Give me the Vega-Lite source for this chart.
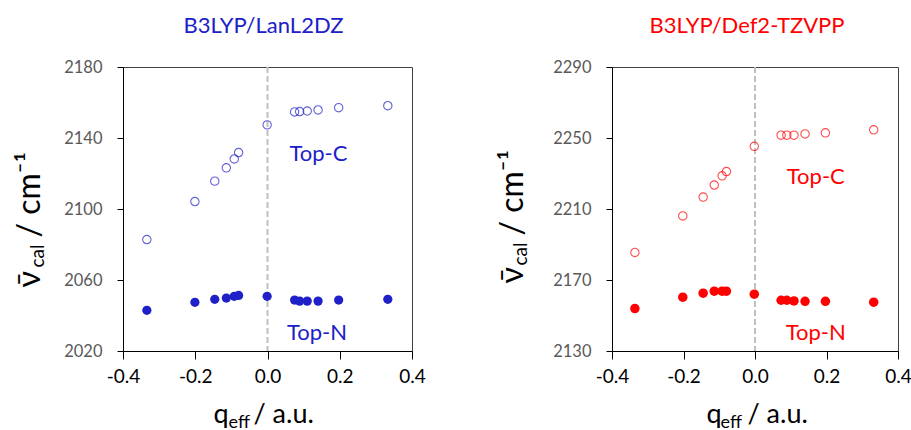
{
  "$schema": "https://vega.github.io/schema/vega-lite/v6.json",
  "padding": {"left": 12, "top": 14, "right": 0, "bottom": 0},
  "spacing": 69,
  "config": {
    "font": "Lato",
    "view": {"stroke": "#404040", "strokeWidth": 1},
    "axis": {"grid": false}
  },
  "datasets": {
    "lanl": [
      {"q": -0.334, "v": 2082.8, "site": "Top-C"},
      {"q": -0.201, "v": 2104.2, "site": "Top-C"},
      {"q": -0.146, "v": 2115.7, "site": "Top-C"},
      {"q": -0.114, "v": 2123.2, "site": "Top-C"},
      {"q": -0.092, "v": 2128.2, "site": "Top-C"},
      {"q": -0.080, "v": 2131.8, "site": "Top-C"},
      {"q": -0.001, "v": 2147.4, "site": "Top-C"},
      {"q": 0.075, "v": 2154.7, "site": "Top-C"},
      {"q": 0.089, "v": 2154.9, "site": "Top-C"},
      {"q": 0.110, "v": 2155.2, "site": "Top-C"},
      {"q": 0.140, "v": 2155.8, "site": "Top-C"},
      {"q": 0.197, "v": 2157.1, "site": "Top-C"},
      {"q": 0.333, "v": 2158.2, "site": "Top-C"},
      {"q": -0.334, "v": 2042.9, "site": "Top-N"},
      {"q": -0.201, "v": 2047.4, "site": "Top-N"},
      {"q": -0.146, "v": 2049.1, "site": "Top-N"},
      {"q": -0.114, "v": 2049.8, "site": "Top-N"},
      {"q": -0.092, "v": 2050.8, "site": "Top-N"},
      {"q": -0.080, "v": 2051.3, "site": "Top-N"},
      {"q": -0.001, "v": 2050.8, "site": "Top-N"},
      {"q": 0.075, "v": 2048.7, "site": "Top-N"},
      {"q": 0.089, "v": 2048.1, "site": "Top-N"},
      {"q": 0.110, "v": 2048.1, "site": "Top-N"},
      {"q": 0.140, "v": 2048.1, "site": "Top-N"},
      {"q": 0.197, "v": 2048.7, "site": "Top-N"},
      {"q": 0.333, "v": 2049.1, "site": "Top-N"}
    ],
    "lanl_labels": [
      {"q": 0.141, "v": 2131, "label": "Top-C"},
      {"q": 0.137, "v": 2030, "label": "Top-N"}
    ],
    "def2": [
      {"q": -0.336, "v": 2185.5, "site": "Top-C"},
      {"q": -0.202, "v": 2206.1, "site": "Top-C"},
      {"q": -0.145, "v": 2216.7, "site": "Top-C"},
      {"q": -0.114, "v": 2223.5, "site": "Top-C"},
      {"q": -0.092, "v": 2228.7, "site": "Top-C"},
      {"q": -0.080, "v": 2231.1, "site": "Top-C"},
      {"q": -0.002, "v": 2245.3, "site": "Top-C"},
      {"q": 0.073, "v": 2251.6, "site": "Top-C"},
      {"q": 0.089, "v": 2251.6, "site": "Top-C"},
      {"q": 0.109, "v": 2251.6, "site": "Top-C"},
      {"q": 0.140, "v": 2252.3, "site": "Top-C"},
      {"q": 0.197, "v": 2252.9, "site": "Top-C"},
      {"q": 0.332, "v": 2254.6, "site": "Top-C"},
      {"q": -0.336, "v": 2153.9, "site": "Top-N"},
      {"q": -0.202, "v": 2160.3, "site": "Top-N"},
      {"q": -0.145, "v": 2162.6, "site": "Top-N"},
      {"q": -0.114, "v": 2163.7, "site": "Top-N"},
      {"q": -0.092, "v": 2163.7, "site": "Top-N"},
      {"q": -0.080, "v": 2163.7, "site": "Top-N"},
      {"q": -0.002, "v": 2162.0, "site": "Top-N"},
      {"q": 0.073, "v": 2158.6, "site": "Top-N"},
      {"q": 0.089, "v": 2158.6, "site": "Top-N"},
      {"q": 0.109, "v": 2158.2, "site": "Top-N"},
      {"q": 0.140, "v": 2158.0, "site": "Top-N"},
      {"q": 0.197, "v": 2158.0, "site": "Top-N"},
      {"q": 0.332, "v": 2157.5, "site": "Top-N"}
    ],
    "def2_labels": [
      {"q": 0.170, "v": 2228, "label": "Top-C"},
      {"q": 0.170, "v": 2140, "label": "Top-N"}
    ]
  },
  "hconcat": [
    {
      "width": 289,
      "height": 284,
      "title": {"text": "B3LYP/LanL2DZ", "color": "#2020C8", "fontSize": 22, "fontWeight": "normal", "font": "Lato", "offset": 21, "dx": -4},
      "resolve": {"axis": {"x": "independent", "y": "independent"}},
      "layer": [
        {
          "data": {"values": [{"q": 0}]},
          "mark": {"type": "rule", "color": "#BFBFBF", "strokeWidth": 2, "strokeDash": [6, 3]},
          "encoding": {
            "x": {"field": "q", "type": "quantitative", "scale": {"domain": [-0.4, 0.4], "nice": false, "zero": false}, "axis": null}
          }
        },
        {
          "data": {"name": "lanl"},
          "transform": [{"filter": "datum.site === 'Top-C'"}],
          "mark": {"type": "point", "shape": "circle", "filled": false, "color": "#2020C8", "size": 70, "strokeWidth": 1.1},
          "encoding": {
            "x": {"field": "q", "type": "quantitative", "scale": {"domain": [-0.4, 0.4], "nice": false, "zero": false},
              "axis": {"orient": "bottom", "values": [-0.4, -0.2, 0, 0.2, 0.4], "format": ".1f", "labelExpr": "replace(datum.label, '\u2212', '-')",
                "tickSize": 8, "tickColor": "black", "domainColor": "black", "labelColor": "black", "labelFontSize": 19, "labelPadding": 8, "labelFlush": false,
                "title": "q", "titleFontSize": 27, "titleFontWeight": "normal", "titleColor": "black",
                "titleX": 90, "titleY": 71, "titleAlign": "left", "titleBaseline": "alphabetic"}},
            "y": {"field": "v", "type": "quantitative", "scale": {"domain": [2020, 2180], "nice": false, "zero": false},
              "axis": {"orient": "left", "values": [2020, 2060, 2100, 2140, 2180], "format": "d", "tickSize": 6, "tickColor": "black", "domainColor": "black",
                "labelColor": "#595959", "labelFontSize": 16.5, "labelPadding": 15, "labelFlush": false,
                "title": "\u03bd\u0304", "titleFontSize": 32, "titleFontWeight": "normal", "titleColor": "black",
                "titleAngle": -90, "titleX": -84, "titleY": 220, "titleAlign": "left", "titleBaseline": "alphabetic"}}
          }
        },
        {
          "data": {"name": "lanl"},
          "transform": [{"filter": "datum.site === 'Top-N'"}],
          "mark": {"type": "circle", "color": "#2020C8", "size": 85, "opacity": 1},
          "encoding": {
            "x": {"field": "q", "type": "quantitative", "scale": {"domain": [-0.4, 0.4], "nice": false, "zero": false}, "axis": null},
            "y": {"field": "v", "type": "quantitative", "scale": {"domain": [2020, 2180], "nice": false, "zero": false}, "axis": null}
          }
        },
        {
          "data": {"name": "lanl_labels"},
          "mark": {"type": "text", "color": "#2020C8", "fontSize": 22, "font": "Lato", "align": "center", "baseline": "middle"},
          "encoding": {
            "x": {"field": "q", "type": "quantitative", "scale": {"domain": [-0.4, 0.4], "nice": false, "zero": false}, "axis": null},
            "y": {"field": "v", "type": "quantitative", "scale": {"domain": [2020, 2180], "nice": false, "zero": false}, "axis": null},
            "text": {"field": "label"}
          }
        },
        {
          "data": {"name": "lanl_labels"},
          "mark": {"type": "point", "opacity": 0},
          "encoding": {
            "x": {"field": "q", "type": "quantitative", "scale": {"domain": [-0.4, 0.4], "nice": false, "zero": false},
              "axis": {"orient": "bottom", "domain": false, "ticks": false, "labels": false, "title": "eff", "titleFontSize": 18, "titleFontWeight": "normal",
                "titleColor": "black", "titleX": 105, "titleY": 76, "titleAlign": "left", "titleBaseline": "alphabetic"}},
            "y": {"field": "v", "type": "quantitative", "scale": {"domain": [2020, 2180], "nice": false, "zero": false},
              "axis": {"orient": "left", "domain": false, "ticks": false, "labels": false, "title": "cal", "titleFontSize": 19, "titleFontWeight": "normal",
                "titleColor": "black", "titleAngle": -90, "titleX": -80, "titleY": 200, "titleAlign": "left", "titleBaseline": "alphabetic"}}
          }
        },
        {
          "data": {"name": "lanl_labels"},
          "mark": {"type": "point", "opacity": 0},
          "encoding": {
            "x": {"field": "q", "type": "quantitative", "scale": {"domain": [-0.4, 0.4], "nice": false, "zero": false},
              "axis": {"orient": "bottom", "domain": false, "ticks": false, "labels": false, "title": "/ a.u.", "titleFontSize": 27, "titleFontWeight": "normal",
                "titleColor": "black", "titleX": 130, "titleY": 71, "titleAlign": "left", "titleBaseline": "alphabetic"}},
            "y": {"field": "v", "type": "quantitative", "scale": {"domain": [2020, 2180], "nice": false, "zero": false},
              "axis": {"orient": "left", "domain": false, "ticks": false, "labels": false, "title": "/ cm\u207b\u00b9", "titleFontSize": 32, "titleFontWeight": "normal",
                "titleColor": "black", "titleAngle": -90, "titleX": -84, "titleY": 170, "titleAlign": "left", "titleBaseline": "alphabetic"}}
          }
        }
      ]
    },
    {
      "width": 286,
      "height": 284,
      "title": {"text": "B3LYP/Def2-TZVPP", "color": "#FF0000", "fontSize": 22, "fontWeight": "normal", "font": "Lato", "offset": 21, "dx": -8},
      "resolve": {"axis": {"x": "independent", "y": "independent"}},
      "layer": [
        {
          "data": {"values": [{"q": 0}]},
          "mark": {"type": "rule", "color": "#BFBFBF", "strokeWidth": 2, "strokeDash": [6, 3]},
          "encoding": {
            "x": {"field": "q", "type": "quantitative", "scale": {"domain": [-0.4, 0.4], "nice": false, "zero": false}, "axis": null}
          }
        },
        {
          "data": {"name": "def2"},
          "transform": [{"filter": "datum.site === 'Top-C'"}],
          "mark": {"type": "point", "shape": "circle", "filled": false, "color": "#FF0000", "size": 70, "strokeWidth": 1.1},
          "encoding": {
            "x": {"field": "q", "type": "quantitative", "scale": {"domain": [-0.4, 0.4], "nice": false, "zero": false},
              "axis": {"orient": "bottom", "values": [-0.4, -0.2, 0, 0.2, 0.4], "format": ".1f", "labelExpr": "replace(datum.label, '\u2212', '-')",
                "tickSize": 8, "tickColor": "black", "domainColor": "black", "labelColor": "black", "labelFontSize": 19, "labelPadding": 8, "labelFlush": false,
                "title": "q", "titleFontSize": 27, "titleFontWeight": "normal", "titleColor": "black",
                "titleX": 94, "titleY": 71, "titleAlign": "left", "titleBaseline": "alphabetic"}},
            "y": {"field": "v", "type": "quantitative", "scale": {"domain": [2130, 2290], "nice": false, "zero": false},
              "axis": {"orient": "left", "values": [2130, 2170, 2210, 2250, 2290], "format": "d", "tickSize": 6, "tickColor": "black", "domainColor": "black",
                "labelColor": "#595959", "labelFontSize": 16.5, "labelPadding": 15, "labelFlush": false,
                "title": "\u03bd\u0304", "titleFontSize": 32, "titleFontWeight": "normal", "titleColor": "black",
                "titleAngle": -90, "titleX": -90, "titleY": 216, "titleAlign": "left", "titleBaseline": "alphabetic"}}
          }
        },
        {
          "data": {"name": "def2"},
          "transform": [{"filter": "datum.site === 'Top-N'"}],
          "mark": {"type": "circle", "color": "#FF0000", "size": 90, "opacity": 1},
          "encoding": {
            "x": {"field": "q", "type": "quantitative", "scale": {"domain": [-0.4, 0.4], "nice": false, "zero": false}, "axis": null},
            "y": {"field": "v", "type": "quantitative", "scale": {"domain": [2130, 2290], "nice": false, "zero": false}, "axis": null}
          }
        },
        {
          "data": {"name": "def2_labels"},
          "mark": {"type": "text", "color": "#FF0000", "fontSize": 22, "font": "Lato", "align": "center", "baseline": "middle"},
          "encoding": {
            "x": {"field": "q", "type": "quantitative", "scale": {"domain": [-0.4, 0.4], "nice": false, "zero": false}, "axis": null},
            "y": {"field": "v", "type": "quantitative", "scale": {"domain": [2130, 2290], "nice": false, "zero": false}, "axis": null},
            "text": {"field": "label"}
          }
        },
        {
          "data": {"name": "def2_labels"},
          "mark": {"type": "point", "opacity": 0},
          "encoding": {
            "x": {"field": "q", "type": "quantitative", "scale": {"domain": [-0.4, 0.4], "nice": false, "zero": false},
              "axis": {"orient": "bottom", "domain": false, "ticks": false, "labels": false, "title": "eff", "titleFontSize": 18, "titleFontWeight": "normal",
                "titleColor": "black", "titleX": 108, "titleY": 76, "titleAlign": "left", "titleBaseline": "alphabetic"}},
            "y": {"field": "v", "type": "quantitative", "scale": {"domain": [2130, 2290], "nice": false, "zero": false},
              "axis": {"orient": "left", "domain": false, "ticks": false, "labels": false, "title": "cal", "titleFontSize": 19, "titleFontWeight": "normal",
                "titleColor": "black", "titleAngle": -90, "titleX": -86, "titleY": 198, "titleAlign": "left", "titleBaseline": "alphabetic"}}
          }
        },
        {
          "data": {"name": "def2_labels"},
          "mark": {"type": "point", "opacity": 0},
          "encoding": {
            "x": {"field": "q", "type": "quantitative", "scale": {"domain": [-0.4, 0.4], "nice": false, "zero": false},
              "axis": {"orient": "bottom", "domain": false, "ticks": false, "labels": false, "title": "/ a.u.", "titleFontSize": 27, "titleFontWeight": "normal",
                "titleColor": "black", "titleX": 135, "titleY": 71, "titleAlign": "left", "titleBaseline": "alphabetic"}},
            "y": {"field": "v", "type": "quantitative", "scale": {"domain": [2130, 2290], "nice": false, "zero": false},
              "axis": {"orient": "left", "domain": false, "ticks": false, "labels": false, "title": "/ cm\u207b\u00b9", "titleFontSize": 32, "titleFontWeight": "normal",
                "titleColor": "black", "titleAngle": -90, "titleX": -90, "titleY": 168, "titleAlign": "left", "titleBaseline": "alphabetic"}}
          }
        }
      ]
    }
  ]
}
